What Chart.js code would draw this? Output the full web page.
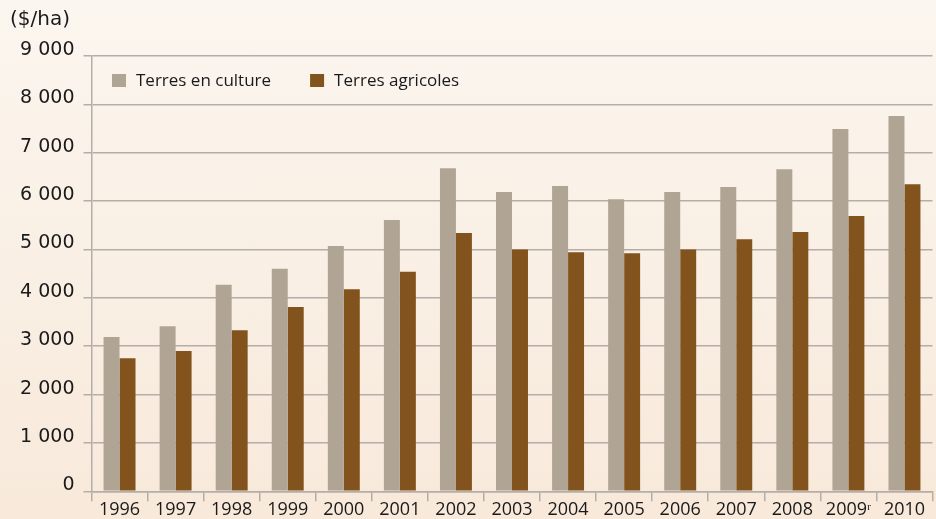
<!DOCTYPE html>
<html>
<head>
<meta charset="utf-8">
<script src="https://cdn.jsdelivr.net/npm/chart.js@4"></script>
<style>
  * { margin: 0; padding: 0; box-sizing: border-box; }
  html, body { width: 936px; height: 519px; overflow: hidden; }
  body { background: linear-gradient(#fbf6ef, #f8e9da); font-family: "DejaVu Sans", sans-serif; }
  .wrap { position: relative; width: 936px; height: 519px; }
  .unit { position: absolute; left: 10px; top: 6px; font-size: 20px; line-height: 24px; color: #1a1a1a; }
</style>
</head>
<body>
<div class="wrap">
  <div class="unit">($/ha)</div>
  <canvas id="chart" width="936" height="519"></canvas>
</div>
<script>
// --- data ---
var years = ['1996', '1997', '1998', '1999', '2000', '2001', '2002', '2003', '2004', '2005', '2006', '2007', '2008', '2009ʳ', '2010'];
var terresCulture = [3190, 3410, 4270, 4600, 5070, 5610, 6680, 6190, 6310, 6040, 6190, 6290, 6660, 7490, 7760];
var terresAgricoles = [2750, 2900, 3330, 3810, 4180, 4540, 5340, 5000, 4940, 4920, 5000, 5210, 5360, 5690, 6350];
var seriesNames = ['Terres en culture', 'Terres agricoles'];
var yTicks = [0, 1000, 2000, 3000, 4000, 5000, 6000, 7000, 8000, 9000];

var GRID = '#b3aea9';
var TEXT = '#1a1a1a';

function fmt(v) {
  var s = String(v);
  return s.length > 3 ? s.slice(0, s.length - 3) + ' ' + s.slice(-3) : s;
}

// legend drawn inside the plot area, top-left
var innerLegend = {
  id: 'innerLegend',
  afterDraw: function (chart) {
    var ctx = chart.ctx, a = chart.chartArea;
    var x = a.left + 20.5, y = a.top + 25;
    ctx.save();
    ctx.font = '17px "Open Sans"';
    ctx.textBaseline = 'middle';
    chart.data.datasets.forEach(function (ds) {
      ctx.fillStyle = ds.backgroundColor;
      ctx.fillRect(x, y - 7, 14, 13);
      ctx.fillStyle = TEXT;
      ctx.fillText(ds.label, x + 24, y);
      x += 24 + ctx.measureText(ds.label).width + 39;
    });
    ctx.restore();
  }
};

new Chart(document.getElementById('chart'), {
  type: 'bar',
  data: {
    labels: years,
    datasets: [
      { label: seriesNames[0], data: terresCulture, backgroundColor: '#b0a594' },
      { label: seriesNames[1], data: terresAgricoles, backgroundColor: '#82531d' }
    ]
  },
  options: {
    responsive: false,
    animation: false,
    devicePixelRatio: 1,
    layout: { padding: { top: 56, right: 3.5, left: 0, bottom: 0 } },
    datasets: { bar: { categoryPercentage: 0.57, barPercentage: 1.0 } },
    plugins: { legend: { display: false }, tooltip: { enabled: false } },
    scales: {
      x: {
        grid: { offset: true, drawOnChartArea: false, drawTicks: true, tickLength: 10, color: GRID, lineWidth: 1.5 },
        border: { display: true, color: GRID, width: 1.5 },
        ticks: { color: TEXT, font: { family: 'Open Sans', size: 18, lineHeight: 1 }, padding: 0, maxRotation: 0, autoSkip: false },
        afterFit: function (s) { s.height = 27.7; }
      },
      y: {
        min: 0,
        max: 9000,
        afterBuildTicks: function (s) { s.ticks = yTicks.map(function (v) { return { value: v }; }); },
        grid: { color: GRID, lineWidth: 1.5, drawTicks: true, tickLength: 8 },
        border: { display: true, color: GRID, width: 1.5 },
        ticks: { color: TEXT, font: { family: 'DejaVu Sans', size: 19 }, padding: 9, labelOffset: -6, callback: function (v) { return fmt(v); } },
        afterFit: function (s) { s.width = 91.5; }
      }
    }
  },
  plugins: [innerLegend]
});
</script>
</body>
</html>
